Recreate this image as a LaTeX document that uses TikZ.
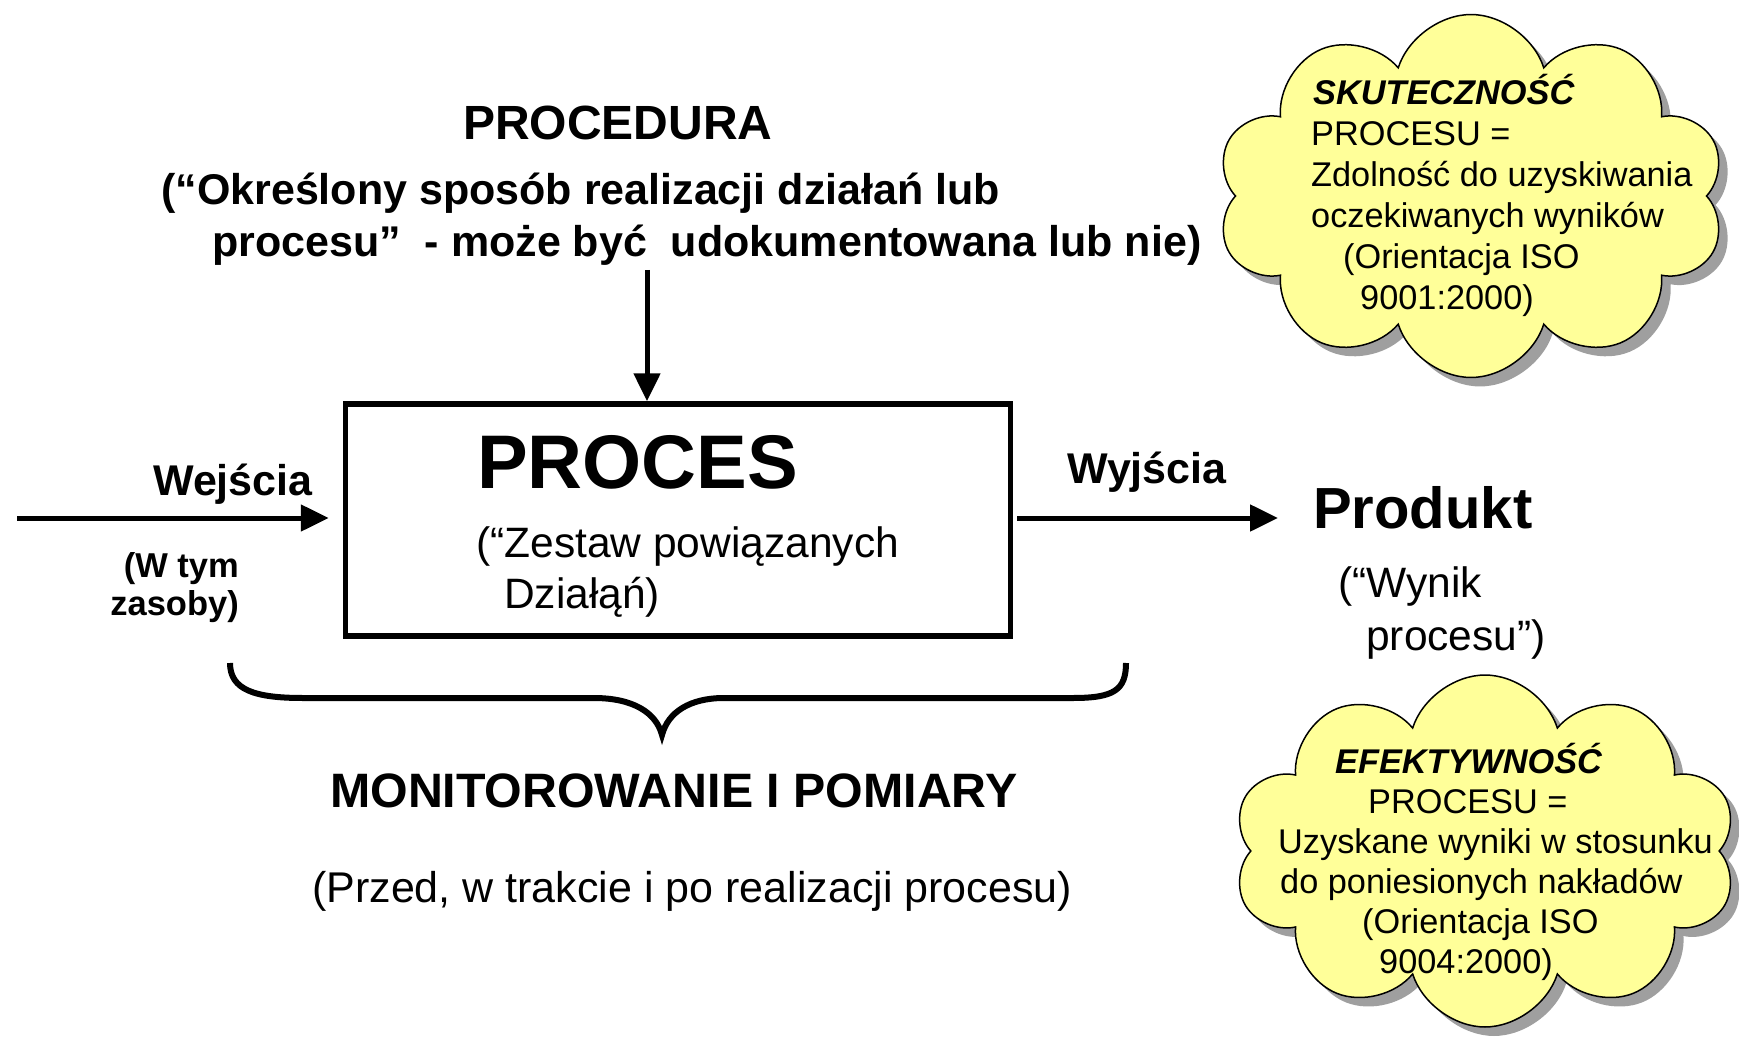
\documentclass[tikz,border=0pt]{standalone}
\usepackage{fontspec}
\setmainfont{Liberation Sans}
\usetikzlibrary{arrows.meta, positioning, shapes.symbols, shadows}
\definecolor{cloudyellow}{HTML}{FFFF99}

\begin{document}
\begin{tikzpicture}[x=1pt, y=-1pt,
    flow/.style={line width=5pt, -{Triangle[length=28pt, width=26pt]}},
    headtxt/.style={font=\bfseries\fontsize{43}{50}\selectfont, inner sep=0pt, anchor=base west},
    plaintxt/.style={font=\fontsize{42.5}{50}\selectfont, inner sep=0pt, anchor=base west},
    cloudbox/.style={cloud, cloud puffs=10, cloud puff arc=145, cloud ignores aspect, draw, line width=1.5pt,
        fill=cloudyellow, drop shadow={shadow xshift=9pt, shadow yshift=-9pt, fill=gray!75, opacity=1}},
    cloudtxt/.style={font=\fontsize{34.3}{41}\selectfont, inner sep=0pt, anchor=base west}]
    \useasboundingbox (0,0) rectangle (1739,1048);

    % Procedura
    \node[headtxt, font=\bfseries\fontsize{48}{56}\selectfont] (procedura) at (463,140) {PROCEDURA};
    \node[headtxt] (opis1) at (161,205) {(“Określony sposób realizacji działań lub};
    \node[headtxt] (opis2) at (212,257) {procesu”\ \ - może być\ \ udokumentowana lub nie)};

    % Proces
    \node[draw, line width=5.5pt, minimum width=665pt, minimum height=232pt, inner sep=0pt] (proc) at (678,520) {};
    \node[headtxt, font=\bfseries\fontsize{76}{80}\selectfont] (proces) at (477,488) {PROCES};
    \node[plaintxt] (zestaw1) at (476,557) {(“Zestaw powiązanych};
    \node[plaintxt] (zestaw2) at (504,608) {Działąń)};

    % Wejscia i wyjscia
    \coordinate (inL) at (17,518);
    \coordinate (top) at (647,270);
    \node[headtxt] (wej) at (153,495) {Wejścia};
    \node[headtxt, font=\bfseries\fontsize{34.5}{38}\selectfont, anchor=base east] (wtym) at (239,577) {(W tym};
    \node[headtxt, font=\bfseries\fontsize{34.5}{38}\selectfont, anchor=base east] (zasoby) at (239,615) {zasoby)};
    \node[headtxt] (wyj) at (1067,483) {Wyjścia};
    \node[headtxt, font=\bfseries\fontsize{58}{64}\selectfont] (prod) at (1313,528) {Produkt};
    \node[plaintxt] (wynik1) at (1338,597) {(“Wynik};
    \node[plaintxt] (wynik2) at (1366,650) {procesu”)};

    \draw[flow] (top) -- (top |- proc.north);
    \draw[flow, shorten >=14pt] (inL) -- (inL -| proc.west);
    \draw[flow, shorten <=4pt, shorten >=35pt] (proc.east |- inL) -- (prod.west |- inL);

    % Monitorowanie
    \draw[line width=6pt] (230,663) .. controls (230,690) and (255,698) .. (303,698) -- (594,698)
        .. controls (632,698) and (656,712) .. (662,735) .. controls (668,712) and (690,698) .. (724,698)
        -- (1073,698) .. controls (1114,698) and (1126,690) .. (1126,663);
    \node[headtxt, font=\bfseries\fontsize{48.3}{54}\selectfont] (monit) at (330,807) {MONITOROWANIE I POMIARY};
    \node[plaintxt, font=\fontsize{43}{50}\selectfont] (przed) at (312,902) {(Przed, w trakcie i po realizacji procesu)};

    % Chmury
    \node[cloudbox, minimum width=509pt, minimum height=363pt] (skut) at (1471,196) {};
    \node[cloudbox, minimum width=504pt, minimum height=352pt] (efek) at (1485,851) {};

    \foreach \dx/\txt [count=\i] in {2/{\bfseries\itshape SKUTECZNOŚĆ}, 0/{PROCESU =},
        0/{Zdolność do uzyskiwania}, 0/{oczekiwanych wyników}, 32/{(Orientacja ISO}, 49/{9001:2000)}}
        \node[cloudtxt] (sk\i) at (1311+\dx,64+41*\i) {\txt};
    \foreach \dx/\txt [count=\i] in {57/{\bfseries\itshape EFEKTYWNOŚĆ}, 90/{PROCESU =},
        0/{Uzyskane wyniki w stosunku}, 2/{do poniesionych nakładów}, 84/{(Orientacja ISO}, 101/{9004:2000)}}
        \node[cloudtxt] (ef\i) at (1278+\dx,733+40*\i) {\txt};
\end{tikzpicture}
\end{document}
